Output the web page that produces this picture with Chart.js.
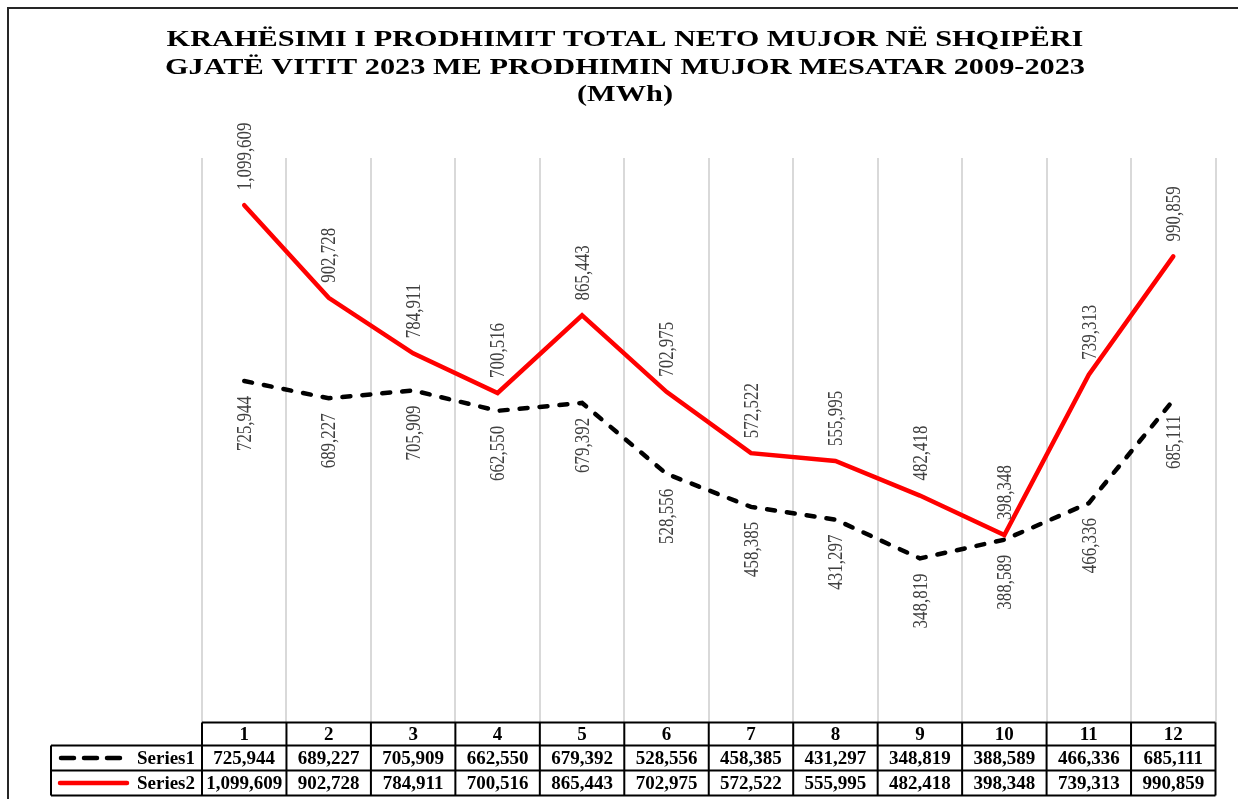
<!DOCTYPE html>
<html><head><meta charset="utf-8">
<script src="https://cdn.jsdelivr.net/npm/chart.js@4/dist/chart.umd.min.js"></script>
<style>html,body{margin:0;padding:0;background:#fff}canvas{display:block}</style>
</head><body>
<canvas id="c" width="1238" height="799"></canvas>
<script>
const titleLines = ['KRAHËSIMI I PRODHIMIT TOTAL NETO MUJOR NË SHQIPËRI', 'GJATË VITIT 2023 ME PRODHIMIN MUJOR MESATAR 2009-2023', '(MWh)'];
const categories = ['1','2','3','4','5','6','7','8','9','10','11','12'];
const seriesNames = ['Series1', 'Series2'];
const series1 = [725944, 689227, 705909, 662550, 679392, 528556, 458385, 431297, 348819, 388589, 466336, 685111];
const series2 = [1099609, 902728, 784911, 700516, 865443, 702975, 572522, 555995, 482418, 398348, 739313, 990859];
const yMin = 0, yMax = 1200000;

const SERIF = '"Liberation Serif","Times New Roman",serif';
const fmt = v => v.toLocaleString('en-US');

function scaledText(ctx, text, x, y, sx) {
  ctx.save(); ctx.translate(x, y); ctx.scale(sx, 1); ctx.fillText(text, 0, 0); ctx.restore();
}

const decor = {
  id: 'decor',
  beforeDraw(chart) {
    const ctx = chart.ctx;
    ctx.save();
    ctx.fillStyle = '#fff'; ctx.fillRect(0, 0, chart.width, chart.height);
    ctx.strokeStyle = '#262626'; ctx.lineWidth = 2;
    ctx.beginPath(); ctx.moveTo(8, chart.height + 4); ctx.lineTo(8, 8); ctx.lineTo(chart.width + 4, 8); ctx.stroke();
    ctx.fillStyle = '#000'; ctx.font = 'bold 24px ' + SERIF; ctx.textAlign = 'center'; ctx.textBaseline = 'middle';
    const sx = 920 / ctx.measureText(titleLines[1]).width;
    titleLines.forEach((t, i) => scaledText(ctx, t, 625, 40 + i * 27.5, sx));
    ctx.restore();
  },
  afterDatasetsDraw(chart) {
    const ctx = chart.ctx;
    ctx.save();
    ctx.fillStyle = '#404040';
    ctx.font = '22px ' + SERIF;
    ctx.textBaseline = 'middle';
    chart.data.datasets.forEach((ds, i) => {
      const above = ds.label === 'Series2';
      const meta = chart.getDatasetMeta(i);
      meta.data.forEach((pt, j) => {
        ctx.save();
        ctx.translate(pt.x + 1, above ? pt.y - 15 : pt.y + 15);
        ctx.rotate(-Math.PI / 2);
        ctx.scale(0.77, 1);
        ctx.textAlign = above ? 'left' : 'right';
        ctx.fillText(fmt(ds.data[j]), 0, 0);
        ctx.restore();
      });
    });
    ctx.restore();
  },
  afterDraw(chart) {
    const ctx = chart.ctx, a = chart.chartArea, n = categories.length;
    const cw = (a.right - a.left) / n;
    const t0 = a.bottom, t1 = t0 + 23, t2 = t1 + 25, t3 = t2 + 25;
    const lx = 51;
    ctx.save();
    ctx.strokeStyle = '#000'; ctx.lineWidth = 2;
    ctx.beginPath();
    ctx.moveTo(a.left, t0); ctx.lineTo(a.right, t0);
    for (let j = 0; j <= n; j++) { const x = a.left + j * cw; ctx.moveTo(x, t0); ctx.lineTo(x, t3); }
    ctx.moveTo(lx, t1); ctx.lineTo(a.right, t1);
    ctx.moveTo(lx, t2); ctx.lineTo(a.right, t2);
    ctx.moveTo(lx, t3); ctx.lineTo(a.right, t3);
    ctx.moveTo(lx, t1); ctx.lineTo(lx, t3);
    ctx.stroke();
    ctx.fillStyle = '#000'; ctx.font = 'bold 19px ' + SERIF; ctx.textBaseline = 'middle'; ctx.textAlign = 'center';
    const rows = [series1, series2];
    categories.forEach((c, j) => {
      const cx = a.left + (j + 0.5) * cw;
      ctx.fillText(c, cx, (t0 + t1) / 2 + 1);
      rows.forEach((r, k) => {
        const y0 = k === 0 ? t1 : t2;
        ctx.fillText(fmt(r[j]), cx, y0 + 12.5 + 1);
      });
    });
    ctx.textAlign = 'right';
    ctx.fillText(seriesNames[0], 195, (t1 + t2) / 2 + 1);
    ctx.fillText(seriesNames[1], 195, (t2 + t3) / 2 + 1);
    ctx.lineWidth = 4.5; ctx.lineCap = 'round';
    ctx.strokeStyle = '#000'; ctx.setLineDash([13, 10]);
    ctx.beginPath(); ctx.moveTo(61, (t1 + t2) / 2); ctx.lineTo(120, (t1 + t2) / 2); ctx.stroke();
    ctx.setLineDash([]); ctx.strokeStyle = '#ff0000';
    ctx.beginPath(); ctx.moveTo(60, (t2 + t3) / 2); ctx.lineTo(127, (t2 + t3) / 2); ctx.stroke();
    ctx.restore();
  }
};

new Chart(document.getElementById('c'), {
  type: 'line',
  data: {
    labels: categories,
    datasets: [
      { label: seriesNames[0], data: series1, borderColor: '#000', borderWidth: 4.5, borderDash: [8, 12], borderCapStyle: 'round', pointRadius: 0, tension: 0, fill: false, order: 1 },
      { label: seriesNames[1], data: series2, borderColor: '#ff0000', borderWidth: 4.5, borderCapStyle: 'round', pointRadius: 0, tension: 0, fill: false, order: 0 }
    ]
  },
  options: {
    responsive: false,
    devicePixelRatio: 1,
    animation: false,
    layout: { padding: { left: 202, right: 22.5, top: 158, bottom: 76.5 } },
    plugins: { legend: { display: false }, title: { display: false }, tooltip: { enabled: false } },
    scales: {
      x: {
        display: true, offset: true,
        ticks: { display: false },
        grid: { offset: true, color: '#d9d9d9', lineWidth: 2, drawTicks: false },
        border: { display: false }
      },
      y: { display: false, min: yMin, max: yMax }
    }
  },
  plugins: [decor]
});
</script>
</body></html>
